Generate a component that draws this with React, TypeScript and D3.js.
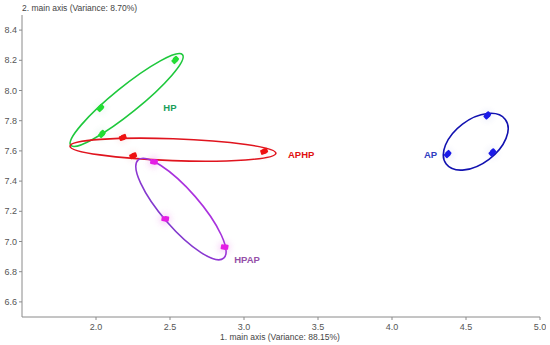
import * as d3 from "d3";

// axis ranges and ticks
const xDomain = [1.5, 5.0];
const yDomain = [6.5, 8.5];
const xTicks = [2.0, 2.5, 3.0, 3.5, 4.0, 4.5, 5.0];
const yTicks = [6.6, 6.8, 7.0, 7.2, 7.4, 7.6, 7.8, 8.0, 8.2, 8.4];

const groups = ["HP", "APHP", "HPAP", "AP"];

// sample scores [x, y] per group
const hpPoints = [[2.535, 8.2], [2.03, 7.882], [2.04, 7.71]];
const aphpPoints = [[2.18, 7.687], [2.25, 7.566], [3.135, 7.595]];
const hpapPoints = [[2.39, 7.527], [2.466, 7.149], [2.867, 6.962]];
const apPoints = [[4.644, 7.833], [4.678, 7.588], [4.376, 7.577]];

// confidence ellipses: [cx, cy, semi-major, semi-minor (x units), angle deg]
const ellipses = [
  [2.207, 7.937, 0.486, 0.088, 39],
  [2.52, 7.608, 0.696, 0.074, -2],
  [2.574, 7.215, 0.44, 0.128, -49],
  [4.566, 7.661, 0.25, 0.149, 37],
];

// label anchors
const labelPos = [[2.455, 7.884], [3.297, 7.573], [2.934, 6.877], [4.216, 7.573]];

const lineColors = ["#1ec83c", "#e0141e", "url(#hpapGrad)", "#1212b0"];
const pointColors = ["#22dd33", "#ee1111", "url(#hpapGrad)", "#1a1ae8"];
const labelColors = ["#1a9e5a", "#e01010", "#9550a8", "#2e3dbf"];
const pointSets = [hpPoints, aphpPoints, hpapPoints, apPoints];

const W = 546;
const H = 345;

export default function App() {
  const x = d3.scaleLinear().domain(xDomain).range([22, 540]);
  const y = d3.scaleLinear().domain(yDomain).range([317, 15]);
  const k = x(1) - x(0);
  const font = "'Liberation Sans', Arial, sans-serif";

  return (
    <div style={{ position: "fixed", left: 0, top: 0, width: 550, height: H, background: "#fff" }}>
      <svg width={W} height={H} style={{ display: "block" }} fontFamily={font}>
        <defs>
          <linearGradient id="hpapGrad" gradientUnits="userSpaceOnUse" x1={0} y1={y(7.55)} x2={0} y2={y(6.95)}>
            <stop offset="0" stopColor="#e41ee4" />
            <stop offset="0.3" stopColor="#b030e0" />
            <stop offset="1" stopColor="#6a3ec4" />
          </linearGradient>
          <filter id="glow" x="-1" y="-1" width="3" height="3">
            <feGaussianBlur stdDeviation="3" />
          </filter>
        </defs>

        {/* axes */}
        <line x1={x(1.5)} x2={x(5.0)} y1={y(6.5)} y2={y(6.5)} stroke="#8a8a8a" strokeWidth={1} />
        <line x1={x(1.5)} x2={x(1.5)} y1={y(6.5)} y2={y(8.5)} stroke="#8a8a8a" strokeWidth={1} />
        {xTicks.map((t) => (
          <g key={`x${t}`}>
            <line x1={x(t)} x2={x(t)} y1={y(6.5)} y2={y(6.5) + 3} stroke="#8a8a8a" />
            <text x={x(t)} y={329.5} fontSize={9} fill="#555" textAnchor="middle">
              {t.toFixed(1)}
            </text>
          </g>
        ))}
        {yTicks.map((t) => (
          <g key={`y${t}`}>
            <line x1={x(1.5) - 3} x2={x(1.5)} y1={y(t)} y2={y(t)} stroke="#8a8a8a" />
            <text x={17} y={y(t)} dy="0.35em" fontSize={9} fill="#555" textAnchor="end">
              {t.toFixed(1)}
            </text>
          </g>
        ))}
        <text x={22} y={11} fontSize={8.5} fill="#444">
          2. main axis (Variance: 8.70%)
        </text>
        <text x={280} y={339.5} fontSize={8.5} fill="#444" textAnchor="middle">
          1. main axis (Variance: 88.15%)
        </text>

        {/* point glow */}
        {pointSets.map((pts, gi) =>
          pts.map((p, i) => (
            <circle
              key={`g${gi}-${i}`}
              cx={x(p[0])}
              cy={y(p[1])}
              r={6}
              fill={gi === 2 ? "#f3b8f3" : labelColors[gi]}
              opacity={gi === 2 ? 0.55 : 0.06}
              filter="url(#glow)"
            />
          ))
        )}

        {/* ellipses */}
        {ellipses.map((e, gi) => (
          <ellipse
            key={`e${gi}`}
            cx={x(e[0])}
            cy={y(e[1])}
            rx={e[2] * k}
            ry={e[3] * k}
            transform={`rotate(${-e[4]} ${x(e[0])} ${y(e[1])})`}
            fill="none"
            stroke={lineColors[gi]}
            strokeWidth={1.6}
          />
        ))}

        {/* points */}
        {pointSets.map((pts, gi) =>
          pts.map((p, i) => (
            <g key={`p${gi}-${i}`} transform={`translate(${x(p[0])},${y(p[1])}) rotate(${-ellipses[gi][4] * 0.6 - 20})`}>
              <rect x={-3.5} y={-2.5} width={6} height={5} rx={1} fill={pointColors[gi]} />
              <rect x={-1} y={-3} width={5} height={5} rx={1} fill={pointColors[gi]} />
            </g>
          ))
        )}

        {/* group labels */}
        {groups.map((g, gi) => (
          <text
            key={g}
            x={x(labelPos[gi][0])}
            y={y(labelPos[gi][1])}
            dy="0.35em"
            fontSize={9.5}
            fontWeight="bold"
            fill={labelColors[gi]}
          >
            {g}
          </text>
        ))}
      </svg>
    </div>
  );
}
